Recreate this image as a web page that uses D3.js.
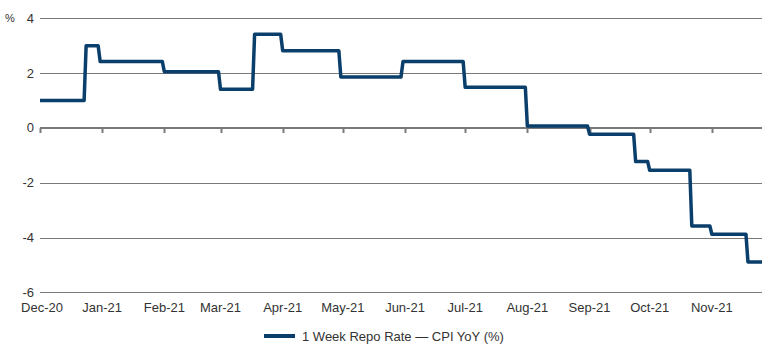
<!DOCTYPE html>
<html>
<head>
<meta charset="utf-8">
<script src="https://cdn.jsdelivr.net/npm/d3@7/dist/d3.min.js"></script>
<style>
  html, body { margin: 0; padding: 0; background: #fff; }
  svg { display: block; font-family: "Liberation Sans", Arial, Helvetica, sans-serif; }
</style>
</head>
<body>
<svg id="chart" width="770" height="357"></svg>
<script>
// ---- Data: 1 Week Repo Rate minus CPI YoY (%), plateau start/end points ----
const seriesName = "1 Week Repo Rate \u2014 CPI YoY (%)";
const dates = [
  "2020-12-01","2020-12-23",
  "2020-12-24","2020-12-30",
  "2020-12-31","2021-01-31",
  "2021-02-01","2021-02-28",
  "2021-03-01","2021-03-17",
  "2021-03-18","2021-03-31",
  "2021-04-01","2021-04-29",
  "2021-04-30","2021-05-30",
  "2021-05-31","2021-06-30",
  "2021-07-01","2021-07-31",
  "2021-08-01","2021-08-31",
  "2021-09-01","2021-09-23",
  "2021-09-24","2021-09-30",
  "2021-10-01","2021-10-21",
  "2021-10-22","2021-10-31",
  "2021-11-01","2021-11-18",
  "2021-11-19","2021-11-26"
];
const values = [
  1.0, 1.0,
  3.0, 3.0,
  2.42, 2.42,
  2.05, 2.05,
  1.41, 1.41,
  3.42, 3.42,
  2.82, 2.82,
  1.86, 1.86,
  2.42, 2.42,
  1.48, 1.48,
  0.07, 0.07,
  -0.23, -0.23,
  -1.23, -1.23,
  -1.55, -1.55,
  -3.58, -3.58,
  -3.88, -3.88,
  -4.89, -4.89
];
const yTicks = [4, 2, 0, -2, -4, -6];
const xTickLabels = ["Dec-20","Jan-21","Feb-21","Mar-21","Apr-21","May-21","Jun-21","Jul-21","Aug-21","Sep-21","Oct-21","Nov-21"];
const xTickDates = ["2020-12-01","2021-01-01","2021-02-01","2021-03-01","2021-04-01","2021-05-01","2021-06-01","2021-07-01","2021-08-01","2021-09-01","2021-10-01","2021-11-01"];
const xDomain = ["2020-12-01", "2021-11-26"];
const yDomain = [-6, 4];

// ---- Layout ----
const parse = d3.utcParse("%Y-%m-%d");
const data = dates.map((d, i) => ({ date: parse(d), value: values[i] }));

const plotLeft = 40, plotRight = 762, plotTop = 18.3, plotBottom = 292.3;
const x = d3.scaleUtc().domain(xDomain.map(parse)).range([plotLeft, plotRight]);
const y = d3.scaleLinear().domain(yDomain).range([plotBottom, plotTop]);

const svg = d3.select("#chart");
const textColor = "#333333";
const gridColor = "#7a7a7a";
const lineColor = "#0b3f6b";

// Gridlines (non-zero)
svg.append("g")
  .selectAll("line")
  .data(yTicks.filter(v => v !== 0))
  .join("line")
  .attr("x1", plotLeft).attr("x2", plotRight)
  .attr("y1", d => Math.round(y(d)) + 0.5).attr("y2", d => Math.round(y(d)) + 0.5)
  .attr("stroke", gridColor).attr("stroke-width", 1);

// Y axis labels
svg.append("g")
  .selectAll("text")
  .data(yTicks)
  .join("text")
  .attr("x", 34)
  .attr("y", d => y(d))
  .attr("dy", "0.35em")
  .attr("text-anchor", "end")
  .attr("font-size", 13)
  .attr("fill", textColor)
  .text(d => d);

// Unit label
svg.append("text")
  .attr("x", 5).attr("y", y(4)).attr("dy", "0.3em")
  .attr("font-size", 11).attr("fill", textColor)
  .text("%");

// Zero axis with month ticks
const zeroY = Math.round(y(0));
svg.append("line")
  .attr("x1", plotLeft).attr("x2", plotRight)
  .attr("y1", zeroY).attr("y2", zeroY)
  .attr("stroke", gridColor).attr("stroke-width", 2);
svg.append("g")
  .selectAll("line")
  .data(xTickDates.map(parse))
  .join("line")
  .attr("x1", d => Math.round(x(d)) + 0.5).attr("x2", d => Math.round(x(d)) + 0.5)
  .attr("y1", zeroY).attr("y2", zeroY + 5)
  .attr("stroke", gridColor).attr("stroke-width", 2);

// X labels at bottom
svg.append("g")
  .selectAll("text")
  .data(xTickDates.map(parse))
  .join("text")
  .attr("x", (d, i) => i === 0 ? x(d) + 2 : x(d))
  .attr("y", 312)
  .attr("text-anchor", "middle")
  .attr("font-size", 13)
  .attr("fill", textColor)
  .text((d, i) => xTickLabels[i]);

// Series line
const line = d3.line().x(d => x(d.date)).y(d => y(d.value));
svg.append("path")
  .datum(data)
  .attr("d", line)
  .attr("fill", "none")
  .attr("stroke", lineColor)
  .attr("stroke-width", 3.5)
  .attr("stroke-linejoin", "round");

// Legend
const lg = svg.append("g");
lg.append("line")
  .attr("x1", 264).attr("x2", 295)
  .attr("y1", 336).attr("y2", 336)
  .attr("stroke", lineColor).attr("stroke-width", 4);
lg.append("text")
  .attr("x", 302).attr("y", 336).attr("dy", "0.35em")
  .attr("font-size", 13).attr("fill", textColor)
  .text(seriesName);
</script>
</body>
</html>
